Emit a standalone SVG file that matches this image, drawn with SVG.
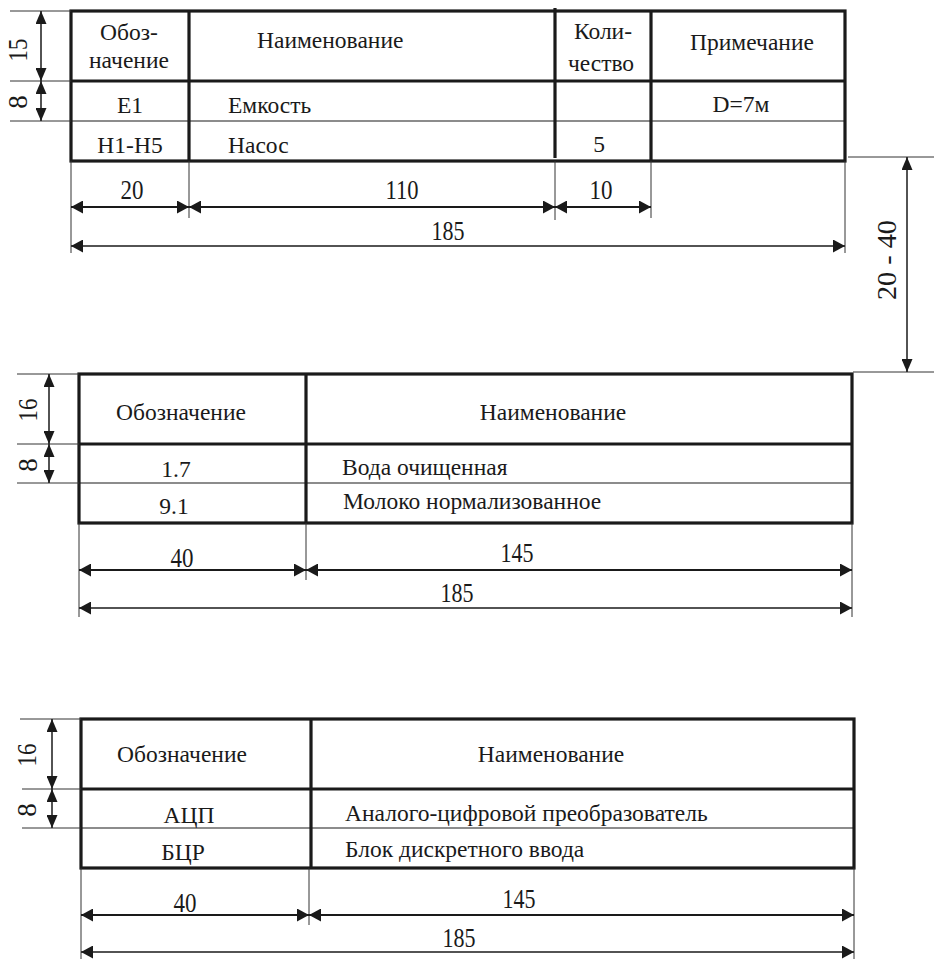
<svg xmlns="http://www.w3.org/2000/svg" width="934" height="959" viewBox="0 0 934 959">
<style>
text{font-family:'Liberation Serif','Times New Roman',serif;font-size:23.5px;fill:#1a1a1a}
.m{text-anchor:middle}
.n{font-size:27px}
.thick{stroke:#1a1a1a;stroke-width:3.2;fill:none}
.thin{stroke:#1a1a1a;stroke-width:1.2;fill:none}
.ext{stroke:#333;stroke-width:1;fill:none}
.dim{stroke:#1a1a1a;stroke-width:2.2;fill:none;marker-start:url(#as);marker-end:url(#ae)}
.dim2{stroke:#1a1a1a;stroke-width:1.4;fill:none;marker-start:url(#as);marker-end:url(#ae)}
.vdim{stroke:#1a1a1a;stroke-width:1.5;fill:none;marker-start:url(#vs);marker-end:url(#ve)}
</style>
<defs>
<marker id="ae" markerUnits="userSpaceOnUse" markerWidth="12" markerHeight="13" refX="12" refY="6.5" orient="auto"><path d="M0,0 L12,6.5 L0,13 z" fill="#1a1a1a"/></marker>
<marker id="as" markerUnits="userSpaceOnUse" markerWidth="12" markerHeight="13" refX="0" refY="6.5" orient="auto"><path d="M12,0 L0,6.5 L12,13 z" fill="#1a1a1a"/></marker>
<marker id="ve" markerUnits="userSpaceOnUse" markerWidth="13" markerHeight="11" refX="13" refY="5.5" orient="auto"><path d="M0,0 L13,5.5 L0,11 z" fill="#1a1a1a"/></marker>
<marker id="vs" markerUnits="userSpaceOnUse" markerWidth="13" markerHeight="11" refX="0" refY="5.5" orient="auto"><path d="M13,0 L0,5.5 L13,11 z" fill="#1a1a1a"/></marker>
</defs>

<g font-family="Liberation Serif, Times New Roman, serif">
<g id="table1">
<rect class="thick" x="71" y="11" width="774" height="150"/>
<line class="thick" x1="189" y1="11" x2="189" y2="161"/>
<line class="thick" x1="555" y1="8" x2="555" y2="158"/>
<line class="thick" x1="651" y1="11" x2="651" y2="161"/>
<line class="thick" x1="71" y1="81" x2="845" y2="81"/>
<line class="thin" x1="71" y1="121" x2="845" y2="121"/>
<text class="m" x="129" y="40">Обоз-</text>
<text class="m" x="129" y="68">начение</text>
<text x="257" y="48">Наименование</text>
<text class="m" x="603" y="39">Коли-</text>
<text class="m" x="601" y="71">чество</text>
<text class="m" x="752" y="50">Примечание</text>
<text class="m" x="130" y="113">E1</text>
<text x="228" y="113">Емкость</text>
<text class="m" x="741" y="112">D=7м</text>
<text class="m" x="130" y="153">H1-H5</text>
<text x="228" y="153">Насос</text>
<text class="m" x="599" y="152">5</text>
</g>

<g id="table2">
<rect class="thick" x="79" y="374" width="773" height="149"/>
<line class="thick" x1="306" y1="374" x2="306" y2="523"/>
<line class="thick" x1="79" y1="444" x2="852" y2="444"/>
<line class="thin" x1="79" y1="483" x2="852" y2="483"/>
<text class="m" x="181" y="420">Обозначение</text>
<text class="m" x="553" y="420">Наименование</text>
<text class="m" x="176" y="477">1.7</text>
<text class="m" x="174" y="514">9.1</text>
<text x="342" y="475">Вода очищенная</text>
<text x="343" y="509">Молоко нормализованное</text>
</g>

<g id="table3">
<rect class="thick" x="81" y="719" width="773" height="149"/>
<line class="thick" x1="311" y1="719" x2="311" y2="868"/>
<line class="thick" x1="81" y1="789" x2="854" y2="789"/>
<line class="thin" x1="81" y1="828" x2="854" y2="828"/>
<text class="m" x="182" y="762">Обозначение</text>
<text class="m" x="551" y="762">Наименование</text>
<text class="m" x="189" y="823">АЦП</text>
<text class="m" x="183" y="860">БЦР</text>
<text x="345" y="821">Аналого-цифровой преобразователь</text>
<text x="345" y="857">Блок дискретного ввода</text>
</g>

<g id="dimensions">
<path class="ext" d="M10,11H71 M10,81H71 M10,121H71 M71,161V253 M189,161V218 M555,161V220 M651,161V218 M845,161V253 M848,157H934 M853,372H934"/>
<line class="vdim" x1="41" y1="11" x2="41" y2="81"/>
<line class="vdim" x1="41" y1="81" x2="41" y2="121"/>
<line class="dim" x1="71" y1="207" x2="189" y2="207"/>
<line class="dim" x1="189" y1="207" x2="555" y2="207"/>
<line class="dim" x1="555" y1="207" x2="651" y2="207"/>
<line class="dim2" x1="71" y1="246" x2="845" y2="246"/>
<line class="vdim" x1="907" y1="157" x2="907" y2="372"/>
<text class="m n" transform="translate(18,50) rotate(-90)" dy="9" textLength="23" lengthAdjust="spacingAndGlyphs">15</text>
<text class="m n" transform="translate(18,102) rotate(-90)" dy="9">8</text>
<text class="m n" transform="translate(887,260) rotate(-90)" dy="9" textLength="80" lengthAdjust="spacingAndGlyphs">20 - 40</text>
<text class="m n" x="132" y="199" textLength="23" lengthAdjust="spacingAndGlyphs">20</text>
<text class="m n" x="402" y="199" textLength="33" lengthAdjust="spacingAndGlyphs">110</text>
<text class="m n" x="601" y="199" textLength="23" lengthAdjust="spacingAndGlyphs">10</text>
<text class="m n" x="448" y="240" textLength="33" lengthAdjust="spacingAndGlyphs">185</text>

<path class="ext" d="M17,374H79 M17,444H79 M17,483H79 M79,523V617 M306,523V580 M852,523V617"/>
<line class="vdim" x1="49" y1="374" x2="49" y2="444"/>
<line class="vdim" x1="49" y1="444" x2="49" y2="483"/>
<line class="dim" x1="79" y1="570" x2="306" y2="570"/>
<line class="dim" x1="306" y1="570" x2="852" y2="570"/>
<line class="dim2" x1="79" y1="608" x2="852" y2="608"/>
<text class="m n" transform="translate(28,410) rotate(-90)" dy="9" textLength="23" lengthAdjust="spacingAndGlyphs">16</text>
<text class="m n" transform="translate(28,465) rotate(-90)" dy="9">8</text>
<text class="m n" x="182" y="567" textLength="23" lengthAdjust="spacingAndGlyphs">40</text>
<text class="m n" x="517" y="562" textLength="33" lengthAdjust="spacingAndGlyphs">145</text>
<text class="m n" x="457" y="602" textLength="33" lengthAdjust="spacingAndGlyphs">185</text>

<path class="ext" d="M20,719H81 M22,789H81 M22,828H81 M81,868V959 M309,868V925 M854,868V959"/>
<line class="vdim" x1="52" y1="719" x2="52" y2="789"/>
<line class="vdim" x1="52" y1="789" x2="52" y2="828"/>
<line class="dim" x1="81" y1="915" x2="309" y2="915"/>
<line class="dim" x1="309" y1="915" x2="854" y2="915"/>
<line class="dim2" x1="81" y1="952" x2="854" y2="952"/>
<text class="m n" transform="translate(27,755) rotate(-90)" dy="9" textLength="23" lengthAdjust="spacingAndGlyphs">16</text>
<text class="m n" transform="translate(27,810) rotate(-90)" dy="9">8</text>
<text class="m n" x="185" y="912" textLength="23" lengthAdjust="spacingAndGlyphs">40</text>
<text class="m n" x="519" y="908" textLength="33" lengthAdjust="spacingAndGlyphs">145</text>
<text class="m n" x="459" y="947" textLength="33" lengthAdjust="spacingAndGlyphs">185</text>
</g>
</g>
</svg>
